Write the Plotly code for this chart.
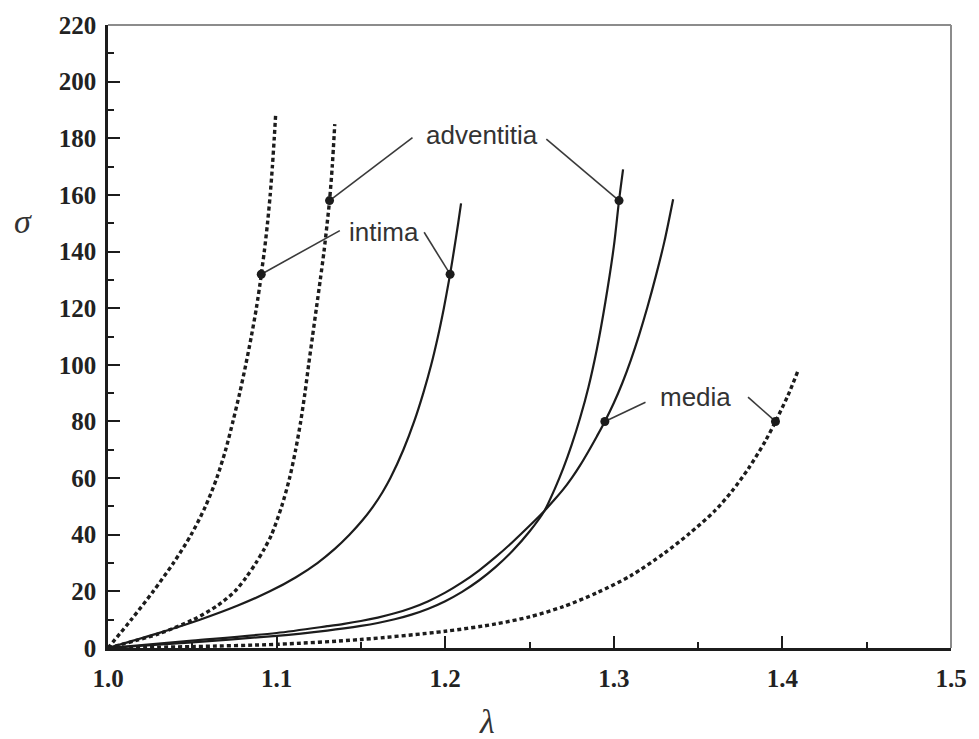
import plotly.graph_objects as go

# Stress (sigma) versus stretch (lambda) for the three arterial layers.
# Solid curves and dotted curves are the two loading directions.

intima_dot_sig = [0, 10, 20, 30, 40, 50, 60, 70, 80, 90, 100, 110, 120, 130, 132, 140, 150, 160, 170, 180, 189]
intima_dot_lam = [1.0, 1.0138, 1.0268, 1.0388, 1.0493, 1.0578, 1.0645, 1.0698, 1.0741, 1.0781, 1.0817,
                  1.0850, 1.0880, 1.0905, 1.0909, 1.0927, 1.0946, 1.0962, 1.0975, 1.0986, 1.0995]

advent_dot_sig = [0, 5, 10, 15, 20, 25, 30, 35, 40, 50, 60, 70, 80, 90, 100, 110, 120, 130, 140, 150, 158, 170, 185]
advent_dot_lam = [1.0, 1.0300, 1.0505, 1.0650, 1.0752, 1.0820, 1.0877, 1.0927, 1.0970, 1.1030, 1.1077, 1.1113,
                  1.1143, 1.1168, 1.1190, 1.1213, 1.1236, 1.1259, 1.1281, 1.1300, 1.1314, 1.1330, 1.1345]

intima_sol_sig = [0, 5, 10, 15, 20, 25, 30, 35, 40, 45, 50, 55, 60, 70, 80, 90, 100, 110, 120, 130, 132, 140, 150, 157]
intima_sol_lam = [1.0, 1.0285, 1.0545, 1.0770, 1.0960, 1.1115, 1.1242, 1.1345, 1.1432, 1.1508, 1.1573, 1.1628,
                  1.1675, 1.1752, 1.1816, 1.1870, 1.1917, 1.1957, 1.1992, 1.2023, 1.2029, 1.2051, 1.2077, 1.2094]

advent_sol_lam = [1.0, 1.05, 1.10, 1.13, 1.14, 1.15, 1.16, 1.17, 1.18, 1.19, 1.20, 1.21, 1.22, 1.23, 1.24, 1.25,
                  1.2588, 1.265, 1.27, 1.275, 1.28, 1.285, 1.29, 1.295, 1.30, 1.3031, 1.3055]
advent_sol_sig = [0, 2.0, 4.3, 6.16, 6.91, 7.79, 8.84, 10.14, 11.79, 13.89, 16.54, 19.84, 23.84, 28.64, 34.34, 41.14,
                  48.4, 56.2, 63.4, 71.7, 81.2, 92.2, 105.7, 122.2, 141.7, 158, 169.0]

media_sol_lam = [1.0, 1.05, 1.10, 1.13, 1.14, 1.15, 1.16, 1.17, 1.18, 1.19, 1.20, 1.21, 1.22, 1.23, 1.24, 1.25,
                 1.2588, 1.265, 1.27, 1.275, 1.28, 1.285, 1.29, 1.2947, 1.30, 1.305, 1.31, 1.315, 1.32, 1.325, 1.33, 1.3352]
media_sol_sig = [0, 2.6, 5.3, 7.7, 8.55, 9.55, 10.75, 12.25, 14.15, 16.55, 19.55, 23.15, 27.35, 32.15, 37.45, 43.15,
                 48.4, 52.5, 56.0, 60.0, 64.5, 69.5, 74.8, 80, 86.5, 93.5, 101.5, 110.5, 120.5, 131.5, 143.5, 158.5]

media_dot_lam = [1.0, 1.05, 1.10, 1.15, 1.20, 1.23, 1.25, 1.27, 1.29, 1.31, 1.33, 1.345, 1.36, 1.37, 1.38,
                 1.39, 1.3959, 1.403, 1.409]
media_dot_sig = [0, 0.5, 1.3, 3.0, 5.9, 8.5, 11.0, 14.6, 19.5, 25.5, 33.5, 40.5, 48.5, 55.3, 63.5,
                 73.2, 80, 88.8, 97.5]

# Marked points on each curve, one pair per layer label
label_names = ["adventitia", "intima", "media"]
label_pt_lam = [[1.1314, 1.3031], [1.0909, 1.2029], [1.2947, 1.3959]]
label_pt_sig = [[158, 158], [132, 132], [80, 80]]

x_ticks = [1.0, 1.1, 1.2, 1.3, 1.4, 1.5]
y_ticks = [0, 20, 40, 60, 80, 100, 120, 140, 160, 180, 200, 220]

# Text anchor and where each callout line leaves the text (data units)
label_text_pos = {"adventitia": (1.2218, 181.0), "intima": (1.1638, 147.0), "media": (1.3482, 88.5)}
label_line_start = {
    "adventitia": [(1.1806, 180.2), (1.2600, 179.7)],
    "intima": [(1.1375, 147.4), (1.1875, 146.8)],
    "media": [(1.3188, 86.8), (1.3796, 88.6)],
}

INK = "#1c1c1c"
dot_style = dict(color=INK, width=3.4, dash="4px,3px")
sol_style = dict(color=INK, width=2.2)

fig = go.Figure()

curves = [
    (intima_dot_lam, intima_dot_sig, dot_style),
    (advent_dot_lam, advent_dot_sig, dot_style),
    (intima_sol_lam, intima_sol_sig, sol_style),
    (advent_sol_lam, advent_sol_sig, sol_style),
    (media_sol_lam, media_sol_sig, sol_style),
    (media_dot_lam, media_dot_sig, dot_style),
]
for lam, sig, style in curves:
    fig.add_trace(go.Scatter(x=lam, y=sig, mode="lines", line=dict(shape="spline", smoothing=0.8, **style),
                             hoverinfo="skip", showlegend=False))

# callout lines and labels
for name, pls, pss in zip(label_names, label_pt_lam, label_pt_sig):
    for (sx, sy), px, py in zip(label_line_start[name], pls, pss):
        fig.add_trace(go.Scatter(x=[sx, px], y=[sy, py], mode="lines",
                                 line=dict(color="#3a3a3a", width=1.6), hoverinfo="skip", showlegend=False))
    fig.add_trace(go.Scatter(x=pls, y=pss, mode="markers",
                             marker=dict(color=INK, size=9), hoverinfo="skip", showlegend=False))
    tx, ty = label_text_pos[name]
    fig.add_annotation(x=tx, y=ty, text=name, showarrow=False,
                       font=dict(family="Liberation Sans, Arial", size=26, color="#333333"),
                       xanchor="center", yanchor="middle")

tick_font = dict(family="Liberation Serif, Times New Roman", size=25, color="#222222", weight="bold")

fig.update_xaxes(range=[1.0, 1.5], tickvals=x_ticks, ticktext=[f"{v:.1f}" for v in x_ticks],
                 ticks="inside", ticklen=12, tickwidth=2, tickcolor=INK,
                 showline=True, linecolor=INK, linewidth=2.5, showgrid=False, zeroline=False,
                 tickfont=tick_font, ticklabelstandoff=6,
                 minor=dict(dtick=0.05, ticks="inside", ticklen=6, tickwidth=2, tickcolor=INK, showgrid=False))
fig.update_yaxes(range=[0, 220], tickvals=y_ticks,
                 ticks="inside", ticklen=12, tickwidth=2, tickcolor=INK,
                 showline=True, linecolor=INK, linewidth=2.5, showgrid=False, zeroline=False,
                 tickfont=tick_font, ticklabelstandoff=4,
                 minor=dict(dtick=10, ticks="inside", ticklen=6, tickwidth=2, tickcolor=INK, showgrid=False))

# axis symbols
fig.add_annotation(xref="paper", yref="paper", x=-0.101, y=0.684, text="<i>σ</i>", showarrow=False,
                   xanchor="center", yanchor="middle",
                   font=dict(family="Liberation Serif, Times New Roman", size=34, color="#333333"))
fig.add_annotation(xref="paper", yref="paper", x=0.449, y=-0.118, text="<i>λ</i>", showarrow=False,
                   xanchor="center", yanchor="middle",
                   font=dict(family="Liberation Serif, Times New Roman", size=34, color="#333333"))

# light gray top/right frame
fig.add_shape(type="line", xref="paper", yref="paper", x0=0, x1=1, y0=1, y1=1, line=dict(color="#8c8c8c", width=2))
fig.add_shape(type="line", xref="paper", yref="paper", x0=1, x1=1, y0=0, y1=1, line=dict(color="#8c8c8c", width=2))

fig.update_layout(
    width=979, height=739,
    margin=dict(l=108, r=21, t=24, b=91),
    paper_bgcolor="white", plot_bgcolor="white",
    showlegend=False,
)

fig.write_html("out.html")
